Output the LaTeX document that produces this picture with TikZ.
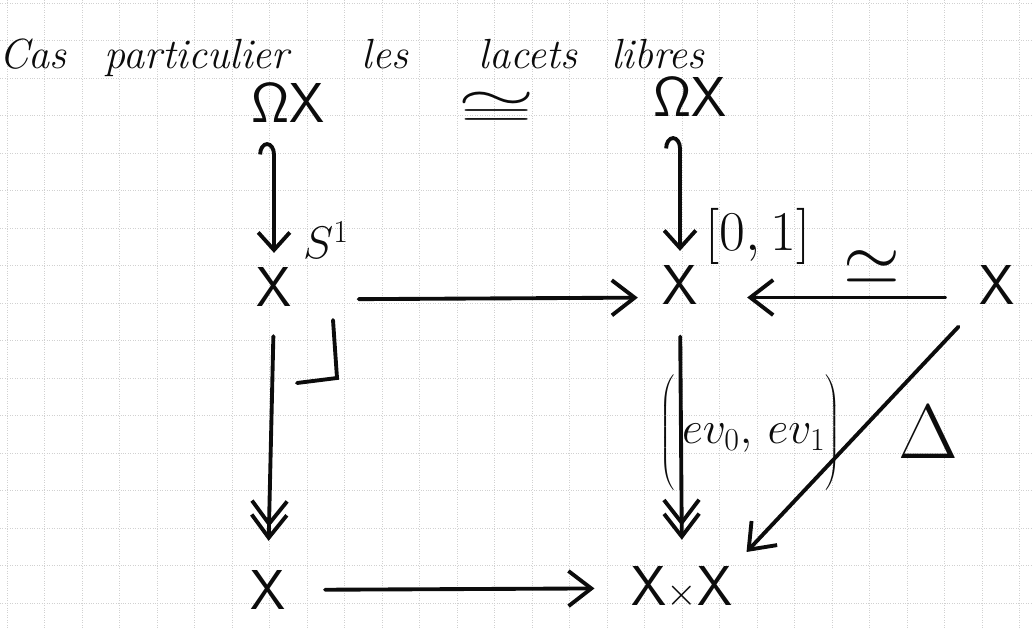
\RequirePackage{fix-cm}
\documentclass[tikz,border=0pt]{standalone}
\usetikzlibrary{arrows.meta,positioning}
\definecolor{inkblack}{RGB}{12,12,12}
\definecolor{gridgray}{RGB}{140,140,140}

\begin{document}
\begin{tikzpicture}[x=0.02cm,y=-0.02cm,
    obj/.style={inner sep=1pt, text=inkblack, font=\fontsize{32}{36}\selectfont},
    lbl/.style={inner sep=0pt, text=inkblack, font=\fontsize{26}{30}\selectfont},
    word/.style={anchor=base, inner sep=0pt, text=inkblack, font=\fontsize{24}{28}\selectfont\itshape},
    arr/.style={draw=inkblack, line width=2.2pt, line cap=round,
      -{Straight Barb[length=13pt,width=20pt]}},
    fib/.style={arr, -{Straight Barb[length=13pt,width=20pt,sep=-8pt]Straight Barb[length=13pt,width=20pt]}},
    incl/.style={arr, {Hooks[left,length=7pt,width=18pt]}-{Straight Barb[length=10pt,width=18pt]}}]
  \useasboundingbox (0,0) rectangle (1033,629);
  % squared paper
  \foreach \i in {0,...,27} \draw[gridgray!40, densely dotted, line width=0.4pt] (7+37.5*\i,0) -- (7+37.5*\i,629);
  \foreach \j in {0,...,16} \draw[gridgray!40, densely dotted, line width=0.4pt] (0,3+37.5*\j) -- (1033,3+37.5*\j);

  % title
  \foreach \w/\x [count=\k] in {Cas/33, particulier/197, les/385, lacets/528, libres/658}
    \node[word] (t\k) at (\x,68) {\w};

  % objects
  \node[obj] (OmL) at (288,103) {$\mathsf{\Omega X}$};
  \node[obj] (OmR) at (690,97) {$\mathsf{\Omega X}$};
  \node[lbl] (iso) at (497,110) {\scalebox{2.2}[1.1]{$\cong$}};
  \node[obj] (XL) at (274,287) {$\mathsf{X}$};
  \node[obj] (XM) at (680,285) {$\mathsf{X}$};
  \node[obj] (XR) at (997,285) {$\mathsf{X}$};
  \node[obj] (XB) at (268,590) {$\mathsf{X}$};
  \node[obj] (XX) at (682,588) {$\mathsf{X}{\scriptstyle\times}\mathsf{X}$};

  % labels
  \node[lbl] (s1) at (326,240) {$S^1$};
  \node[lbl, font=\fontsize{32}{36}\selectfont] (int) at (758,236) {$[0,1]$};
  \node[lbl] (he) at (872,268) {\scalebox{1.6}{$\simeq$}};
  \node[lbl] (ev) at (750,434) {$\left(\vrule height 1.0cm depth 1.0cm width 0pt\,ev_0,\,ev_1\right)$};
  \node[lbl, font=\fontsize{44}{48}\selectfont] (dl) at (928,432) {$\Delta$};

  % arrows
  \draw[incl, shorten <=0.35cm, shorten >=0.25cm] (OmL.south -| XL) -- (XL.north);
  \draw[incl, shorten <=0.35cm, shorten >=0.25cm] (OmR.south -| XM) -- (XM.north);
  \draw[arr, shorten <=1.3cm, shorten >=0.45cm] ([yshift=-0.25cm]XL.east) -- ([yshift=-0.25cm]XM.west);
  \draw[arr, shorten <=0.65cm, shorten >=0.95cm] ([yshift=-0.25cm]XR.west) -- ([yshift=-0.25cm]XM.east);
  \draw[fib, shorten <=0.55cm, shorten >=0.55cm] (XL.south) -- (XB.north);
  \draw[fib, shorten <=0.6cm, shorten >=0.5cm] (XM.south) -- (XX.north);
  \draw[arr, shorten <=0.75cm, shorten >=0.7cm] (XB) -- (XX);
  \draw[arr, shorten <=0.55cm, shorten >=0.35cm] (XR.south west) -- (XX.north east);

  % pullback corner
  \draw[inkblack, line width=2.2pt, line cap=round] (333,320) -- (337,378) -- (297,383);
\end{tikzpicture}
\end{document}
